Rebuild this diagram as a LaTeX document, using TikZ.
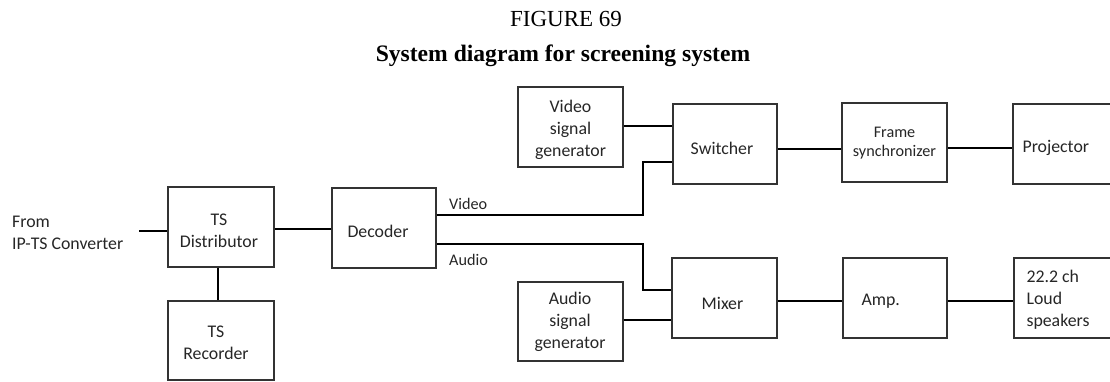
\documentclass[tikz,border=0pt]{standalone}
\usepackage{fontspec}
\setmainfont{Liberation Serif}
\newfontfamily\calfont{Carlito}
\begin{document}
\begin{tikzpicture}[x=1pt,y=-1pt,
  blk/.style={draw=black!80,line width=1.3pt,inner sep=0pt,minimum width=104pt,minimum height=80pt},
  btxt/.style={inner sep=0pt,align=center,text=black!85,font=\calfont\fontsize{17.8}{21.8}\selectfont},
  ltxt/.style={btxt,align=left,anchor=west},
  stxt/.style={inner sep=0pt,text=black!85,font=\calfont\fontsize{16.2}{18.5}\selectfont},
  wire/.style={line width=2.7pt,black}]
\useasboundingbox (0,0) rectangle (1110,381);
\clip (0,0) rectangle (1110,381);
\fill[white] (0,0) rectangle (1110,381);
% titles
\node[anchor=base,inner sep=0pt,font=\fontsize{23}{26}\selectfont] (fig) at (566,26.5) {FIGURE 69};
\node[anchor=base,inner sep=0pt,font=\bfseries\fontsize{23.6}{27}\selectfont] (ttl) at (563,61) {System diagram for screening system};
% boxes
\node[blk,minimum width=106pt] (dist) at (221,227) {};
\node[blk,minimum width=106pt,minimum height=79pt] (rec) at (221,340.5) {};
\node[blk] (dec) at (384,228) {};
\node[blk,minimum width=105pt] (vsg) at (570.5,127) {};
\node[blk] (sw) at (725,144) {};
\node[blk,minimum width=105pt,minimum height=79pt] (fs) at (894.5,142.5) {};
\node[blk] (proj) at (1065,144) {};
\node[blk,minimum width=105pt,minimum height=79pt] (asg) at (570.5,321.5) {};
\node[blk,minimum width=105pt] (mix) at (724.5,298) {};
\node[blk] (amp) at (895,298) {};
\node[blk] (spk) at (1066,298) {};
% box texts
\node[btxt] (distt) at ([xshift=-2pt,yshift=-4pt]dist.center) {TS\\Distributor};
\node[btxt] (rect) at ([xshift=-5pt,yshift=-2pt]rec.center) {TS\\Recorder};
\node[btxt] (dect) at ([xshift=-6pt,yshift=-3pt]dec.center) {Decoder};
\node[btxt] (vsgt) at ([yshift=-3pt]vsg.center) {Video\\signal\\generator};
\node[btxt] (swt) at ([xshift=-3pt,yshift=-4pt]sw.center) {Switcher};
\node[stxt,align=center] (fst) at ([yshift=-0.5pt]fs.center) {Frame\\synchronizer};
\node[ltxt] (projt) at ([xshift=10pt,yshift=-4pt]proj.west) {Projector};
\node[btxt] (asgt) at ([xshift=-0.5pt,yshift=-0.5pt]asg.center) {Audio\\signal\\generator};
\node[btxt] (mixt) at ([xshift=-2pt,yshift=-5pt]mix.center) {Mixer};
\node[ltxt] (ampt) at ([xshift=19pt,yshift=-3pt]amp.west) {Amp.};
\node[ltxt] (spkt) at ([xshift=13pt,yshift=-2pt]spk.west) {22.2 ch\\Loud\\speakers};
% input text
\node[ltxt] (from) at (12,232.5) {From\\IP-TS Converter};
% connectors
\coordinate (in) at (139,231);
\draw[wire] (in) -- (in -| dist.west);
\draw[wire] ([yshift=-2pt]dist.east) -- ([yshift=-2pt]dist.east -| dec.west);
\draw[wire] ([xshift=-3pt]dist.south) -- ([xshift=-3pt]rec.north);
\coordinate (vk) at (643,162);
\draw[wire] ([yshift=13pt]dec.east) -| (vk) -- (vk -| sw.west);
\coordinate (ak) at (643,290);
\draw[wire] ([yshift=-16pt]dec.east) -| (ak) -- (ak -| mix.west);
\draw[wire] ([yshift=1pt]vsg.east) -- ([yshift=1pt]vsg.east -| sw.west);
\draw[wire] ([yshift=-5pt]sw.east) -- ([yshift=-5pt]sw.east -| fs.west);
\draw[wire] ([yshift=-5.5pt]fs.east) -- ([yshift=-5.5pt]fs.east -| proj.west);
\draw[wire] ([yshift=1.5pt]asg.east) -- ([yshift=1.5pt]asg.east -| mix.west);
\draw[wire] ([yshift=-3pt]mix.east) -- ([yshift=-3pt]mix.east -| amp.west);
\draw[wire] ([yshift=-3pt]amp.east) -- ([yshift=-3pt]amp.east -| spk.west);
% wire labels
\node[stxt,anchor=west] (vlab) at (449,204) {Video};
\node[stxt,anchor=west] (alab) at (449,260) {Audio};
\end{tikzpicture}
\end{document}
